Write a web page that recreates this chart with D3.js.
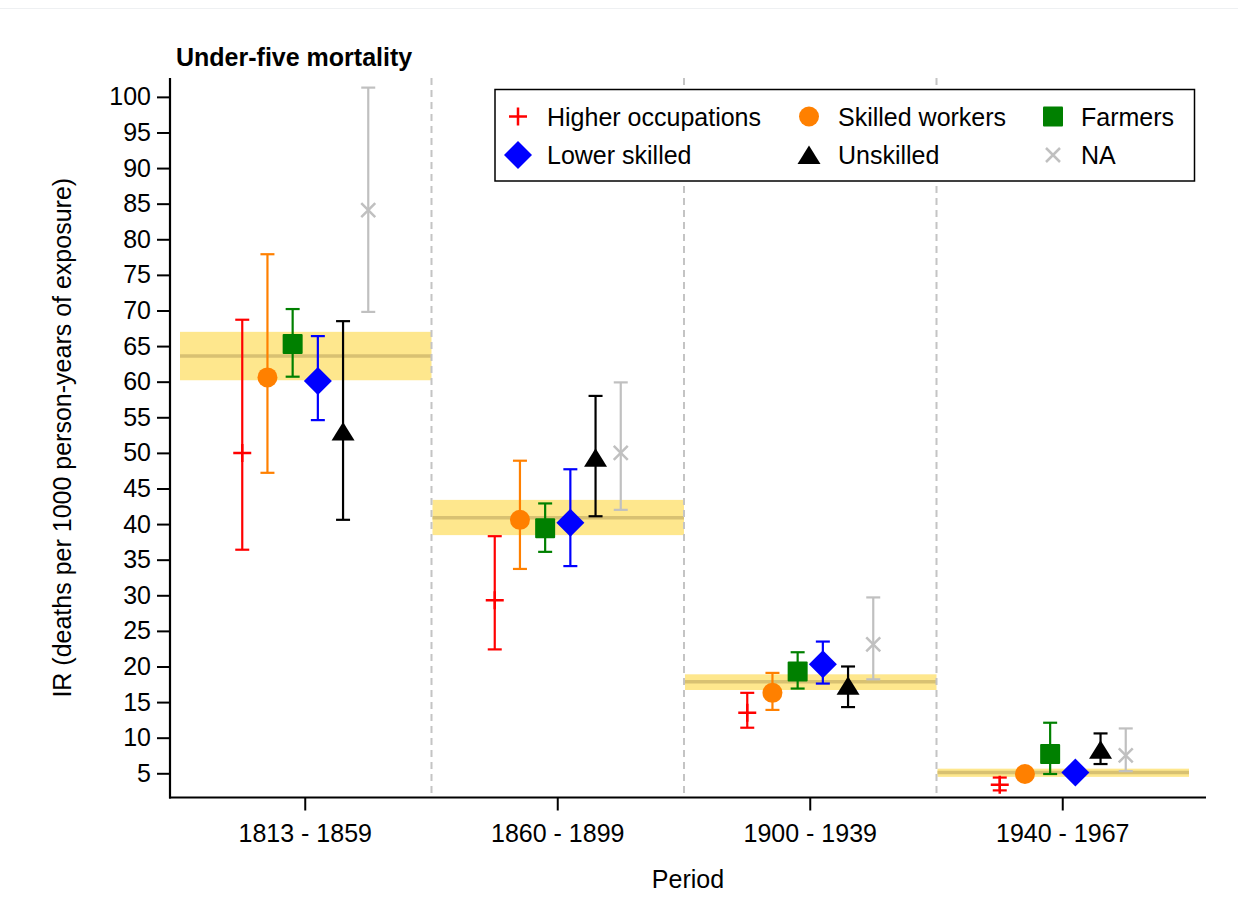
<!DOCTYPE html>
<html>
<head>
<meta charset="utf-8">
<script src="https://cdn.jsdelivr.net/npm/d3@7"></script>
<style>
  html, body { margin: 0; padding: 0; background: #fff; }
  svg { display: block; font-family: "Liberation Sans", Arial, Helvetica, sans-serif; }
</style>
</head>
<body>
<svg id="chart" width="1238" height="924"></svg>
<script>
// ---- data ----
const periods = ["1813 - 1859", "1860 - 1899", "1900 - 1939", "1940 - 1967"];
const seriesNames = ["Higher occupations", "Skilled workers", "Farmers", "Lower skilled", "Unskilled", "NA"];
const seriesColors = ["#ff0000", "#ff8000", "#008000", "#0000ff", "#000000", "#c0c0c0"];
const seriesShapes = ["plus", "circle", "square", "diamond", "triangle", "cross"];

const higherEst = [50.0, 29.3, 13.5, 3.4];
const higherLo  = [36.4, 22.4, 11.4, 2.6];
const higherHi  = [68.7, 38.3, 16.3, 4.4];

const skilledEst = [60.6, 40.6, 16.3, 4.9];
const skilledLo  = [47.2, 33.7, 13.9, 4.3];
const skilledHi  = [77.9, 48.9, 19.1, 5.6];

const farmersEst = [65.3, 39.4, 19.3, 7.7];
const farmersLo  = [60.7, 36.1, 16.9, 4.9];
const farmersHi  = [70.2, 42.9, 22.0, 12.1];

const lowerEst = [60.1, 40.2, 20.3, 5.1];
const lowerLo  = [54.6, 34.1, 17.6, 4.4];
const lowerHi  = [66.4, 47.7, 23.5, 5.8];

const unskilledEst = [53.0, 49.3, 17.3, 8.3];
const unskilledLo  = [40.6, 41.1, 14.3, 6.3];
const unskilledHi  = [68.5, 58.0, 20.0, 10.6];

const naEst = [84.1, 50.0, 23.1, 7.5];
const naLo  = [69.8, 42.0, 18.2, 5.3];
const naHi  = [101.3, 59.9, 29.7, 11.3];

const meanEst = [63.6, 40.9, 17.85, 5.1];
const meanLo  = [60.2, 38.45, 16.7, 4.5];
const meanHi  = [67.0, 43.4, 18.9, 5.65];

const yTicks = [5, 10, 15, 20, 25, 30, 35, 40, 45, 50, 55, 60, 65, 70, 75, 80, 85, 90, 95, 100];

const titleText = "Under-five mortality";
const yLabel = "IR (deaths per 1000 person-years of exposure)";
const xLabel = "Period";

// ---- assemble ----
const estimates = [higherEst, skilledEst, farmersEst, lowerEst, unskilledEst, naEst];
const lows = [higherLo, skilledLo, farmersLo, lowerLo, unskilledLo, naLo];
const highs = [higherHi, skilledHi, farmersHi, lowerHi, unskilledHi, naHi];

const points = [];
seriesNames.forEach((s, si) => {
  periods.forEach((p, pi) => {
    points.push({ series: s, si, period: p, est: estimates[si][pi], lo: lows[si][pi], hi: highs[si][pi] });
  });
});
const means = periods.map((p, i) => ({ period: p, est: meanEst[i], lo: meanLo[i], hi: meanHi[i] }));

// ---- layout ----
const svg = d3.select("#chart");
const FONT = 25;
const plotLeft = 170, plotRight = 1206, plotTop = 78, plotBottom = 797.5;

const x = d3.scaleBand().domain(periods).range([179, 1189]).paddingInner(0).paddingOuter(0);
const xs = d3.scaleBand().domain(seriesNames).range([-75.6, 75.6]);
const y = d3.scaleLinear().domain([1.6, 102.65]).range([plotBottom, plotTop]);

const px = d => x(d.period) + x.bandwidth() / 2 + xs(d.series) + xs.bandwidth() / 2;

// faint frame line at top
svg.append("line").attr("x1", 0).attr("x2", 1238).attr("y1", 8.5).attr("y2", 8.5)
  .attr("stroke", "#eef0f2").attr("stroke-width", 1);

// mean bands
const bands = svg.append("g");
bands.selectAll("rect").data(means).join("rect")
  .attr("x", d => x(d.period) + 1)
  .attr("width", x.bandwidth() - 1)
  .attr("y", d => y(d.hi))
  .attr("height", d => y(d.lo) - y(d.hi))
  .attr("fill", "#fee78d");
bands.selectAll("line").data(means).join("line")
  .attr("x1", d => x(d.period) + 1)
  .attr("x2", d => x(d.period) + x.bandwidth())
  .attr("y1", d => y(d.est)).attr("y2", d => y(d.est))
  .attr("stroke", "#d8c172").attr("stroke-width", 3.5);

// dashed separators
svg.append("g").selectAll("line").data(periods.slice(1)).join("line")
  .attr("x1", d => x(d)).attr("x2", d => x(d))
  .attr("y1", plotTop).attr("y2", plotBottom)
  .attr("stroke", "#c4c4c4").attr("stroke-width", 2).attr("stroke-dasharray", "7,5");

// axes
const yAxis = d3.axisLeft(y).tickValues(yTicks).tickSize(13).tickPadding(6).tickSizeOuter(0);
const gy = svg.append("g").attr("transform", `translate(${plotLeft},0)`).call(yAxis);
gy.select(".domain").remove();
gy.selectAll(".tick line").attr("stroke", "#000").attr("stroke-width", 2);
gy.selectAll(".tick text").attr("font-size", FONT).attr("fill", "#000")
  .attr("font-family", "Liberation Sans, Arial, sans-serif");

const xAxis = d3.axisBottom(x).tickSize(13).tickPadding(14).tickSizeOuter(0);
const gx = svg.append("g").attr("transform", `translate(0,${plotBottom})`).call(xAxis);
gx.select(".domain").remove();
gx.selectAll(".tick line").attr("stroke", "#000").attr("stroke-width", 2);
gx.selectAll(".tick text").attr("font-size", FONT).attr("fill", "#000")
  .attr("font-family", "Liberation Sans, Arial, sans-serif");

svg.append("line").attr("x1", plotLeft).attr("x2", plotLeft).attr("y1", plotTop).attr("y2", plotBottom + 1)
  .attr("stroke", "#000").attr("stroke-width", 2.2);
svg.append("line").attr("x1", plotLeft - 1).attr("x2", plotRight).attr("y1", plotBottom).attr("y2", plotBottom)
  .attr("stroke", "#000").attr("stroke-width", 2.2);

// ---- error bars ----
const cap = 7;
const eb = svg.append("g").selectAll("g").data(points).join("g")
  .attr("stroke", d => seriesColors[d.si]).attr("stroke-width", 2.2).attr("fill", "none");
eb.append("line").attr("x1", px).attr("x2", px).attr("y1", d => y(d.lo)).attr("y2", d => y(d.hi));
eb.append("line").attr("x1", d => px(d) - cap).attr("x2", d => px(d) + cap).attr("y1", d => y(d.lo)).attr("y2", d => y(d.lo));
eb.append("line").attr("x1", d => px(d) - cap).attr("x2", d => px(d) + cap).attr("y1", d => y(d.hi)).attr("y2", d => y(d.hi));

// ---- markers ----
function drawMarker(g, shape, color) {
  switch (shape) {
    case "plus":
      g.append("path").attr("d", "M-9,0H9M0,-9V9").attr("stroke", color).attr("stroke-width", 2.5).attr("fill", "none");
      break;
    case "circle":
      g.append("circle").attr("r", 10).attr("fill", color);
      break;
    case "square":
      g.append("rect").attr("x", -10).attr("y", -10).attr("width", 20).attr("height", 20).attr("rx", 1).attr("fill", color);
      break;
    case "diamond":
      g.append("path").attr("d", "M0,-14L14,0L0,14L-14,0Z").attr("fill", color);
      break;
    case "triangle":
      g.append("path").attr("d", "M0,-9.5L11.5,9L-11.5,9Z").attr("fill", color);
      break;
    case "cross":
      g.append("path").attr("d", "M-7,-7L7,7M-7,7L7,-7").attr("stroke", color).attr("stroke-width", 2.5).attr("fill", "none");
      break;
  }
}
svg.append("g").selectAll("g").data(points).join("g")
  .attr("transform", d => `translate(${px(d)},${y(d.est)})`)
  .each(function(d) { drawMarker(d3.select(this), seriesShapes[d.si], seriesColors[d.si]); });

// ---- titles ----
svg.append("text").attr("x", 176).attr("y", 66).attr("font-size", FONT).attr("font-weight", "bold")
  .attr("fill", "#000").text(titleText);
svg.append("text").attr("transform", `translate(71,${(plotTop + plotBottom) / 2}) rotate(-90)`)
  .attr("text-anchor", "middle").attr("font-size", FONT).attr("fill", "#000").text(yLabel);
svg.append("text").attr("x", (plotLeft + plotRight) / 2).attr("y", 888)
  .attr("text-anchor", "middle").attr("font-size", FONT).attr("fill", "#000").text(xLabel);

// ---- legend ----
const lg = svg.append("g");
lg.append("rect").attr("x", 495).attr("y", 89.5).attr("width", 699.5).attr("height", 91.5)
  .attr("fill", "#fff").attr("stroke", "#000").attr("stroke-width", 1.5);
const colMarkerX = [518, 809, 1053];
const colTextX = [547, 838, 1081];
const rowY = [116.5, 155];
seriesNames.forEach((s, i) => {
  const c = i % 3, r = Math.floor(i / 3);
  const g = lg.append("g").attr("transform", `translate(${colMarkerX[c]},${rowY[r]})`);
  drawMarker(g, seriesShapes[i], seriesColors[i]);
  lg.append("text").attr("x", colTextX[c]).attr("y", rowY[r] + 9).attr("font-size", FONT)
    .attr("fill", "#000").text(s);
});
</script>
</body>
</html>
